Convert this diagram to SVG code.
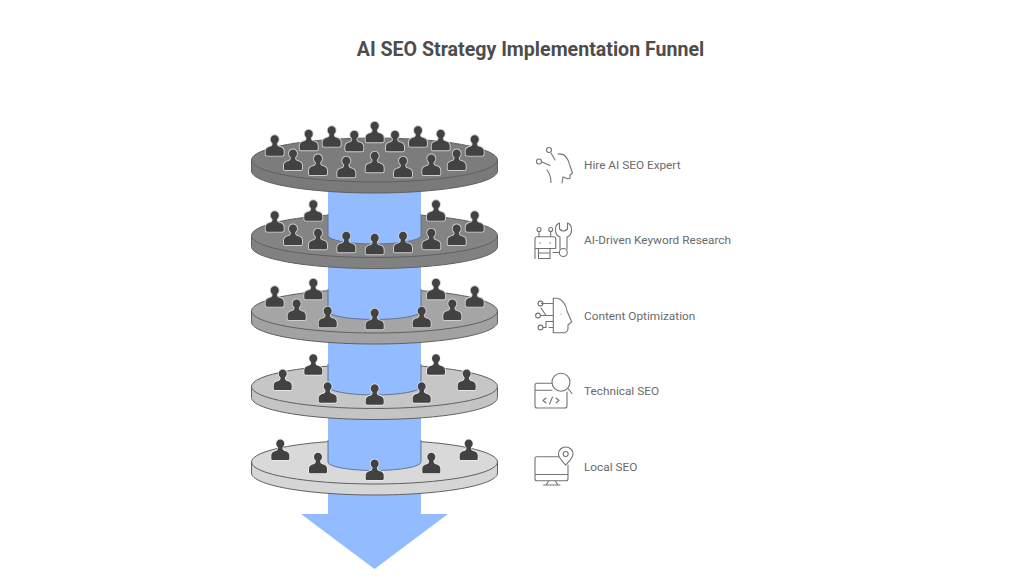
<svg xmlns="http://www.w3.org/2000/svg" width="1024" height="576" viewBox="0 0 1024 576">
<style>
.t{font-family:Roboto,"Liberation Sans",sans-serif;fill:#6a6a6a;font-size:11.8px}
.h{font-family:Roboto,"Liberation Sans",sans-serif;fill:#4d4d4d;font-size:19.6px;font-weight:700;text-anchor:middle}
.i{fill:none;stroke:#737373;stroke-width:1.1;stroke-linecap:round;stroke-linejoin:round}
.rim{stroke:#606060;stroke-width:1}
.col{fill:#93bbff}
.edge{fill:none;stroke:#5f7699;stroke-width:1}
.p{fill:#424242;stroke:#cfcfcf;stroke-width:1.8;paint-order:stroke;stroke-linejoin:round}
.p2{fill:#424242;stroke:#efefef;stroke-width:1.4;paint-order:stroke;stroke-linejoin:round}
</style>
<defs>
<path id="person" d="M0 -20.500C2.300 -20.500 4 -18.700 4 -16.500C4 -14.800 3.200 -13.500 2.300 -12.700C2 -11.700 2.200 -10.500 3 -9.800C3.800 -9.300 5 -9 6.200 -8.500C8 -7.800 9 -6.500 9 -4.500L9 -1.600C9 -0.600 8.400 0 7.400 0L-7.400 0C-8.400 0 -9 -0.600 -9 -1.600L-9 -4.500C-9 -6.500 -8 -7.800 -6.200 -8.500C-5 -9 -3.800 -9.300 -3 -9.800C-2.200 -10.500 -2 -11.700 -2.300 -12.700C-3.200 -13.500 -4 -14.800 -4 -16.500C-4 -18.700 -2.300 -20.500 0 -20.500Z"/>
</defs>
<rect width="1024" height="576" fill="#fff"/>
<text class="h" x="530.500" y="56">AI SEO Strategy Implementation Funnel</text>

<g id="connectors">
<path class="col" d="M328 490L421 490L421 514L448 514L374.500 569L301 514L328 514Z"/>
</g>

<g id="disc-5">
<path class="rim" fill="#d6d6d6" d="M251.500 462L251.500 473C251.500 485 306 495 374.500 495C443 495 497.500 485 497.500 473L497.500 462Z"/>
<ellipse class="rim" cx="374.500" cy="462" rx="123" ry="22" fill="#d9d9d9"/>
<path class="col" d="M328 410L421 410L421 462A46.500 8.500 0 0 1 328 462Z"/>
<path class="edge" d="M328 440L328 462A46.500 8.500 0 0 0 421 462L421 440"/>
<g class="p2">
<use href="#person" x="280.300" y="460"/><use href="#person" x="318" y="473.300"/><use href="#person" x="374.700" y="480"/><use href="#person" x="431.300" y="473.300"/><use href="#person" x="468.700" y="460"/>
</g>
</g>

<g id="disc-4">
<path class="rim" fill="#c4c4c4" d="M251.500 386.500L251.500 397.500C251.500 409.500 306 419.500 374.500 419.500C443 419.500 497.500 409.500 497.500 397.500L497.500 386.500Z"/>
<ellipse class="rim" cx="374.500" cy="386.500" rx="123" ry="22" fill="#c6c6c6"/>
<path class="col" d="M328 335L421 335L421 386.500A46.500 8.500 0 0 1 328 386.500Z"/>
<path class="edge" d="M328 364L328 386.500A46.500 8.500 0 0 0 421 386.500L421 364"/>
<g class="p2">
<use href="#person" x="282.700" y="390"/><use href="#person" x="313.300" y="374.700"/><use href="#person" x="327.700" y="402.700"/><use href="#person" x="374.700" y="404.700"/><use href="#person" x="421.700" y="402.700"/><use href="#person" x="436" y="374.700"/><use href="#person" x="466.700" y="390"/>
</g>
</g>

<g id="disc-3">
<path class="rim" fill="#a2a2a2" d="M251.500 311L251.500 322C251.500 334 306 344 374.500 344C443 344 497.500 334 497.500 322L497.500 311Z"/>
<ellipse class="rim" cx="374.500" cy="311" rx="123" ry="22" fill="#a5a5a5"/>
<path class="col" d="M328 260L421 260L421 311A46.500 8.500 0 0 1 328 311Z"/>
<path class="edge" d="M328 289L328 311A46.500 8.500 0 0 0 421 311L421 289"/>
<g class="p">
<use href="#person" x="274.700" y="306.700"/><use href="#person" x="313.300" y="299.300"/><use href="#person" x="296.700" y="320"/><use href="#person" x="327.700" y="327.300"/><use href="#person" x="374.700" y="329.300"/><use href="#person" x="421.700" y="327.300"/><use href="#person" x="452.300" y="320"/><use href="#person" x="436" y="299.300"/><use href="#person" x="474.700" y="306.700"/>
</g>
</g>

<g id="disc-2">
<path class="rim" fill="#818181" d="M251.500 235.500L251.500 246.500C251.500 258.500 306 268.500 374.500 268.500C443 268.500 497.500 258.500 497.500 246.500L497.500 235.500Z"/>
<ellipse class="rim" cx="374.500" cy="235.500" rx="123" ry="22" fill="#848484"/>
<path class="col" d="M328 185L421 185L421 235.500A46.500 8.500 0 0 1 328 235.500Z"/>
<path class="edge" d="M328 214L328 235.500A46.500 8.500 0 0 0 421 235.500L421 214"/>
<g class="p">
<use href="#person" x="274.700" y="231.700"/><use href="#person" x="313.300" y="220.700"/><use href="#person" x="293" y="245"/><use href="#person" x="318" y="249.300"/><use href="#person" x="346.300" y="252.300"/><use href="#person" x="374.700" y="254.300"/><use href="#person" x="403" y="252.300"/><use href="#person" x="431.300" y="249.300"/><use href="#person" x="456.700" y="245"/><use href="#person" x="436" y="220.700"/><use href="#person" x="474.700" y="231.700"/>
</g>
</g>

<g id="disc-1">
<path class="rim" fill="#7a7a7a" d="M251.500 160L251.500 171C251.500 183 306 193 374.500 193C443 193 497.500 183 497.500 171L497.500 160Z"/>
<ellipse class="rim" cx="374.500" cy="160" rx="123" ry="22" fill="#7c7c7c"/>
<g class="p">
<use href="#person" x="274.700" y="155.700"/><use href="#person" x="308.700" y="150.300"/><use href="#person" x="331.700" y="146.700"/><use href="#person" x="354.300" y="151.300"/><use href="#person" x="374.700" y="142.300"/><use href="#person" x="395" y="151.300"/><use href="#person" x="418" y="146.700"/><use href="#person" x="440.700" y="150.300"/><use href="#person" x="474.700" y="155.700"/><use href="#person" x="293" y="170"/><use href="#person" x="318" y="175"/><use href="#person" x="346.300" y="177.300"/><use href="#person" x="374.700" y="172.300"/><use href="#person" x="403" y="177.300"/><use href="#person" x="431.300" y="175"/><use href="#person" x="456.700" y="170"/>
</g>
</g>

<g id="label-1">
<path class="i" d="M558 154C564 153 568 157 570 166L572.500 173L570 175L570 178C569 180 567 178 563 177L562 183M551 153L555 160M542 162L550 165.500M547 170C550 174 551 178 551 182.500"/>
<circle class="i" cx="549" cy="150" r="2.500"/><circle class="i" cx="539" cy="161.500" r="2.500"/>
<text class="t" x="584" y="169">Hire AI SEO Expert</text>
</g>
<g id="label-2">
<path class="i" d="M539 232V236.700M550.700 232V236.700M537 236.700H553.700Q555.700 236.700 555.700 238.700V248.500H535V238.700Q535 236.700 537 236.700ZM535 248.500V258.500M538.500 248.500V258.500H550V248.500M538.500 253H550M553 252.500H559.300M559.500 223C554 225 554 235 560 237V249M567.500 223C573 225 573 235 567 237V249M559.500 223V229Q563.500 233 567.500 229V223"/>
<circle class="i" cx="539" cy="229.500" r="2"/><circle class="i" cx="550.700" cy="229.500" r="2"/><circle class="i" cx="563.300" cy="252.500" r="4"/>
<circle cx="540" cy="243" r="0.700" fill="#737373"/><circle cx="550" cy="243" r="0.700" fill="#737373"/>
<text class="t" x="584" y="244">AI-Driven Keyword Research</text>
</g>
<g id="label-3">
<path class="i" d="M553.300 298.300H557C562 299 566 304 567 311L571.700 321.700L568 325V329C568 331.500 566.500 332 565 332.700H553.300ZM541.500 303.500H553.300M541 308L546 315.500H553.300M540.500 315.500H553.300M543 327.500H546L546 321.500H553.300M549 327.500H553.300"/>
<circle class="i" cx="540.500" cy="303.500" r="2.400"/><circle class="i" cx="538" cy="315.500" r="2.400"/><circle class="i" cx="540.500" cy="327.500" r="2.400"/>
<circle cx="561" cy="314" r="0.600" fill="#737373"/>
<text class="t" x="584" y="320">Content Optimization</text>
</g>
<g id="label-4">
<path class="i" d="M552 383.300H537Q535 383.300 535 385.300V406Q535 408 537 408H565Q567 408 567 406V392M535 390.300H552M568 388.500L572 393.500M546 398L543 400.500L546 403M556 398L559 400.500L556 403M549.500 404L552.500 397"/>
<circle class="i" cx="561" cy="382.300" r="9"/>
<text class="t" x="584" y="395">Technical SEO</text>
</g>
<g id="label-5">
<path class="i" d="M559 456.700H537Q535 456.700 535 458.700V478.700Q535 480.700 537 480.700H566Q568 480.700 568 478.700V465M535 474.500H568M549 480.700L546 485M555 480.700L558 485M543.500 485H560M565.700 465C562 461 558.500 458 558.500 454C558.500 450 561.700 447 565.700 447C569.700 447 573 450 573 454C573 458 569.500 461 565.700 465Z"/>
<circle class="i" cx="565.700" cy="454" r="2.500"/>
<text class="t" x="584" y="470.500">Local SEO</text>
</g>
</svg>
